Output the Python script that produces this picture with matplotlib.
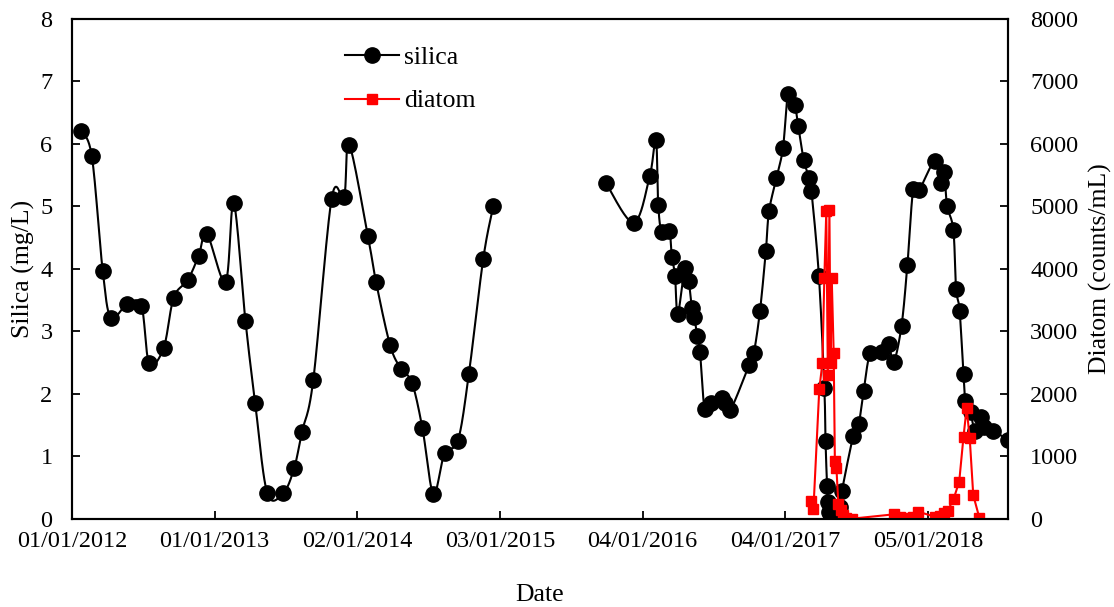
"""
Silica and diatom time series, twin y axes (Excel-style smoothed silica line).
"""
import numpy as np
import pandas as pd
import matplotlib
matplotlib.use("Agg")
import matplotlib.pyplot as plt
import matplotlib.dates as mdates
from matplotlib.ticker import FixedLocator, MultipleLocator
from matplotlib.lines import Line2D

plt.rcParams["font.family"] = ["Liberation Serif", "DejaVu Serif"]

# ── data ────────────────────────────────────────────────────────────────────
silica_dates = [
    "2012-01-24", "2012-02-21", "2012-03-20", "2012-04-10", "2012-05-22",
    "2012-06-27", "2012-07-17", "2012-08-23", "2012-09-18", "2012-10-24",
    "2012-11-21", "2012-12-12", "2013-01-29", "2013-02-19", "2013-03-21",
    "2013-04-15", "2013-05-16", "2013-06-26", "2013-07-24", "2013-08-13",
    "2013-09-11", "2013-10-28", "2013-11-29", "2013-12-12", "2014-01-29",
    "2014-02-19", "2014-03-27", "2014-04-24", "2014-05-22", "2014-06-18",
    "2014-07-16", "2014-08-14", "2014-09-17", "2014-10-15", "2014-11-21",
    "2014-12-17",
    "2015-10-02", "2015-12-12", "2016-01-22", "2016-02-07", "2016-02-13",
    "2016-02-22", "2016-03-12", "2016-03-19", "2016-03-27", "2016-04-03",
    "2016-04-21", "2016-05-01", "2016-05-09", "2016-05-15", "2016-05-23",
    "2016-05-30", "2016-06-11", "2016-06-27", "2016-07-25", "2016-08-01",
    "2016-08-16", "2016-10-03", "2016-10-15", "2016-10-31", "2016-11-15",
    "2016-11-23", "2016-12-12", "2016-12-29", "2017-01-11", "2017-01-28",
    "2017-02-06", "2017-02-20", "2017-03-06", "2017-03-12", "2017-03-31",
    "2017-04-14", "2017-04-17", "2017-04-21", "2017-04-23", "2017-04-25",
    "2017-04-30", "2017-05-24", "2017-05-29", "2017-06-27", "2017-07-11",
    "2017-07-24", "2017-08-10", "2017-09-09", "2017-09-26", "2017-10-09",
    "2017-10-29", "2017-11-13", "2017-11-28", "2017-12-13", "2018-01-22",
    "2018-02-08", "2018-02-15", "2018-02-23", "2018-03-11", "2018-03-18",
    "2018-03-27", "2018-04-06", "2018-04-11", "2018-04-24", "2018-05-05",
    "2018-05-20", "2018-05-29", "2018-06-21", "2018-07-29",
]
silica_values = [
    6.21, 5.80, 3.96, 3.22, 3.44,
    3.41, 2.49, 2.73, 3.54, 3.82,
    4.21, 4.56, 3.79, 5.05, 3.17,
    1.85, 0.41, 0.41, 0.81, 1.39,
    2.22, 5.12, 5.15, 5.99, 4.53,
    3.79, 2.78, 2.40, 2.18, 1.45,
    0.40, 1.05, 1.25, 2.31, 4.16,
    5.01,
    5.37, 4.74, 5.48, 6.07, 5.02,
    4.59, 4.61, 4.19, 3.89, 3.27,
    4.02, 3.81, 3.38, 3.23, 2.93,
    2.67, 1.75, 1.86, 1.94, 1.85,
    1.74, 2.46, 2.65, 3.33, 4.29,
    4.92, 5.45, 5.94, 6.80, 6.62,
    6.29, 5.75, 5.45, 5.24, 3.89,
    2.09, 1.25, 0.52, 0.26, 0.10,
    0.01, 0.19, 0.44, 1.32, 1.51,
    2.05, 2.65, 2.67, 2.79, 2.51,
    3.09, 4.06, 5.28, 5.26, 5.72,
    5.37, 5.55, 5.01, 4.62, 3.68,
    3.33, 2.31, 1.89, 1.71, 1.41,
    1.62, 1.46, 1.41, 1.26,
]

diatom_dates = [
    "2017-03-10", "2017-03-17", "2017-04-01", "2017-04-09", "2017-04-14",
    "2017-04-19", "2017-04-23", "2017-04-27", "2017-04-30", "2017-05-03",
    "2017-05-08", "2017-05-11", "2017-05-15", "2017-05-20", "2017-05-28",
    "2017-05-31", "2017-06-09", "2017-06-24", "2017-10-10", "2017-10-26",
    "2017-11-15", "2017-11-28", "2017-12-11", "2018-01-23", "2018-02-04",
    "2018-02-15", "2018-02-24", "2018-03-12", "2018-03-26", "2018-04-06",
    "2018-04-14", "2018-04-22", "2018-05-01", "2018-05-17",
]
diatom_values = [
    290, 150, 2070, 2490, 3850,
    4920, 2300, 4940, 2500, 3850,
    2650, 930, 810, 230, 140,
    55, 15, 0, 70, 30,
    6, 25, 112, 30, 38,
    86, 120, 323, 595, 1313,
    1770, 1285, 377, 6,
]

tick_start = "2012-01-01"
tick_step_days = 366
n_ticks = 7
x_end = "2018-07-29"


def smooth_segment(x, y, n=24):
    """Excel-like smoothed line (Catmull-Rom as cubic Bezier)."""
    pts = np.column_stack([x, y])
    if len(pts) < 3:
        return pts[:, 0], pts[:, 1]
    out = [pts[0]]
    t = np.linspace(0, 1, n)[1:, None]
    for i in range(len(pts) - 1):
        p0 = pts[i - 1] if i > 0 else pts[i]
        p1, p2 = pts[i], pts[i + 1]
        p3 = pts[i + 2] if i + 2 < len(pts) else pts[i + 1]
        c1 = p1 + (p2 - p0) / 6.0
        c2 = p2 - (p3 - p1) / 6.0
        seg = ((1 - t) ** 3) * p1 + 3 * ((1 - t) ** 2) * t * c1 \
            + 3 * (1 - t) * t ** 2 * c2 + t ** 3 * p2
        out.extend(seg)
    out = np.array(out)
    return out[:, 0], out[:, 1]


sx = mdates.date2num(pd.to_datetime(silica_dates))
sy = np.array(silica_values)
dx = mdates.date2num(pd.to_datetime(diatom_dates))
dy = np.array(diatom_values)

# split silica at the sampling gap (2015)
breaks = np.where(np.diff(sx) > 180)[0] + 1
seg_idx = np.split(np.arange(len(sx)), breaks)

# ── Figure ──────────────────────────────────────────────────────────────────
fig = plt.figure(figsize=(11.14, 6.07), dpi=100)
ax = fig.add_axes([0.0646, 0.1455, 0.8402, 0.8232])
ax2 = ax.twinx()

for idx in seg_idx:
    lx, ly = smooth_segment(sx[idx], sy[idx])
    ax.plot(lx, ly, color="black", lw=1.5, zorder=2)
ax.plot(sx, sy, ls="none", marker="o", ms=11, color="black", zorder=3)

ax2.plot(dx, dy, color="#ff0000", lw=1.5, marker="s", ms=6.5,
         markerfacecolor="#ff0000", markeredgecolor="#ff0000")

# axes limits / ticks
ticks = [mdates.date2num(pd.Timestamp(tick_start) + pd.Timedelta(days=tick_step_days * k))
         for k in range(n_ticks)]
ax.set_xlim(mdates.date2num(pd.Timestamp(tick_start)), mdates.date2num(pd.Timestamp(x_end)))
ax.xaxis.set_major_locator(FixedLocator(ticks))
ax.xaxis.set_major_formatter(mdates.DateFormatter("%d/%m/%Y"))

ax.set_ylim(0, 8)
ax.yaxis.set_major_locator(MultipleLocator(1))
ax2.set_ylim(0, 8000)
ax2.yaxis.set_major_locator(MultipleLocator(1000))

for a in (ax, ax2):
    for sp in a.spines.values():
        sp.set_linewidth(1.5)
ax.tick_params(axis="x", direction="in", length=5.5, width=1.3, pad=9, labelsize=17.5)
ax.tick_params(axis="y", direction="in", length=5.5, width=1.3, pad=14, labelsize=17.5)
ax2.tick_params(axis="y", direction="in", length=5.5, width=1.3, pad=16, labelsize=17.5)

ax.set_xlabel("Date", fontsize=18.5)
ax.set_ylabel("Silica (mg/L)", fontsize=18.5)
ax2.set_ylabel("Diatom (counts/mL)", fontsize=18.5)
ax.xaxis.set_label_coords(0.5, -0.131)
ax.yaxis.set_label_coords(-0.039, 0.5)
ax2.yaxis.set_label_coords(1.0865, 0.5)

handles = [
    Line2D([], [], color="black", lw=1.5, marker="o", ms=11),
    Line2D([], [], color="#ff0000", lw=1.5, marker="s", ms=6.5),
]
ax2.legend(handles, ["silica", "diatom"], loc="upper left",
           bbox_to_anchor=(0.2917, 0.945), frameon=False, fontsize=18.5,
           handlelength=2.1, handletextpad=0.2, labelspacing=0.78,
           borderpad=0, borderaxespad=0)

fig.savefig("out.png", dpi=100, facecolor="white")
plt.close(fig)
